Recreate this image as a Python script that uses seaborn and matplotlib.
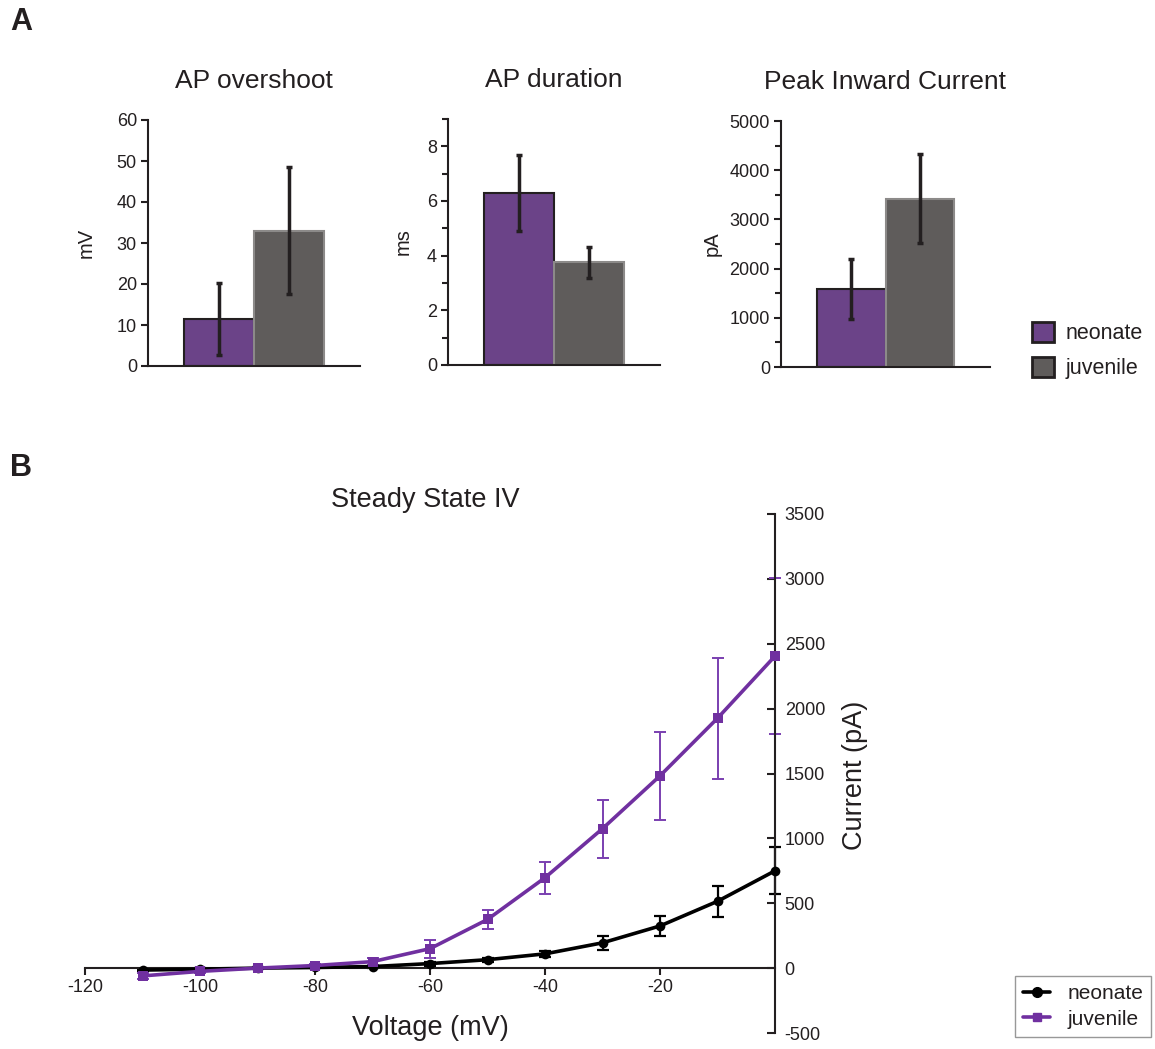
import numpy as np
import pandas as pd
import matplotlib
matplotlib.use("Agg")
import matplotlib.pyplot as plt
from matplotlib.ticker import MultipleLocator
from matplotlib.patches import Patch
from matplotlib.lines import Line2D
import seaborn as sns

sns.set_style("white")
plt.rcParams['font.family'] = ['Liberation Sans', 'DejaVu Sans']
plt.rcParams['axes.unicode_minus'] = False

# ---------------- data ----------------
groups = ["neonate", "juvenile"]

overshoot_mean = [11.5, 33.0]
overshoot_err = [8.8, 15.5]

duration_mean = [6.3, 3.75]
duration_err = [1.4, 0.58]

peak_mean = [1580, 3420]
peak_err = [610, 900]

voltage = [-110, -100, -90, -80, -70, -60, -50, -40, -30, -20, -10, 0]
neonate_I = [-15, -8, 0, 5, 12, 35, 65, 110, 195, 325, 515, 750]
neonate_err = [8, 6, 5, 5, 8, 15, 15, 25, 55, 78, 118, 180]
juvenile_I = [-60, -25, 0, 20, 50, 150, 375, 697, 1075, 1482, 1926, 2405]
juvenile_err = [25, 15, 8, 12, 25, 70, 70, 123, 223, 340, 465, 600]

# ---------------- style ----------------
W, H = 1155, 1049
C_NEO_BAR = "#6b4388"
C_JUV_BAR = "#5f5c5b"
C_PURPLE = "#7030a0"
C_DARK = "#231f20"

fig = plt.figure(figsize=(W / 100, H / 100), dpi=100)


def rect(l, t, r, b):
    return [l / W, 1 - b / H, (r - l) / W, (b - t) / H]


def bar_panel(ax, title, means, errs, ylabel, ymax, major, minor, lblx):
    df = pd.DataFrame({"cond": [""] * 2, "group": groups, "value": means})
    sns.barplot(data=df, x="cond", y="value", hue="group", hue_order=groups,
                palette=[C_NEO_BAR, C_JUV_BAR], errorbar=None, width=0.66,
                ax=ax, legend=False, saturation=1)
    edgecols = [C_DARK, "#8c8a89"]
    for p, ec, m, e in zip(ax.patches, edgecols, means, errs):
        p.set_edgecolor(ec)
        p.set_linewidth(1.5)
        cx = p.get_x() + p.get_width() / 2
        ax.errorbar(cx, m, yerr=e, fmt="none", ecolor=C_DARK, elinewidth=2.5,
                    capsize=2.5, capthick=2.5, zorder=5)
    ax.set_xlim(-0.5, 0.5)
    ax.set_ylim(0, ymax)
    ax.yaxis.set_major_locator(MultipleLocator(major))
    if minor:
        ax.yaxis.set_minor_locator(MultipleLocator(minor))
    ax.set_xticks([])
    ax.set_xlabel("")
    ax.set_ylabel(ylabel, fontsize=14.5, color=C_DARK)
    ax.yaxis.set_label_coords(lblx, 0.5)
    ax.yaxis.label.set_va("center")
    ax.set_title(title, fontsize=19, pad=23, color=C_DARK)
    for s in ["top", "right"]:
        ax.spines[s].set_visible(False)
    for s in ["left", "bottom"]:
        ax.spines[s].set_color(C_DARK)
        ax.spines[s].set_linewidth(1.5)
    ax.tick_params(axis="y", which="both", direction="out", left=True,
                   color=C_DARK, width=1.5, labelsize=13, labelcolor=C_DARK, pad=3)
    ax.tick_params(axis="y", which="major", length=5)
    ax.tick_params(axis="y", which="minor", length=4)


ax1 = fig.add_axes(rect(148, 120, 360, 366))
bar_panel(ax1, "AP overshoot", overshoot_mean, overshoot_err, "mV", 60, 10, None, -0.29)
ax2 = fig.add_axes(rect(448, 119, 660, 365))
bar_panel(ax2, "AP duration", duration_mean, duration_err, "ms", 9, 2, 1, -0.21)
ax3 = fig.add_axes(rect(781, 121, 990, 367))
bar_panel(ax3, "Peak Inward Current", peak_mean, peak_err, "pA", 5000, 1000, 500, -0.33)

legA = [Patch(facecolor=C_NEO_BAR, edgecolor=C_DARK, linewidth=2, label="neonate"),
        Patch(facecolor=C_JUV_BAR, edgecolor=C_DARK, linewidth=2, label="juvenile")]
fig.legend(handles=legA, loc="upper left", bbox_to_anchor=(1013 / W, 1 - 303 / H),
           frameon=False, fontsize=15.5, handlelength=1.0, handleheight=1.0,
           handletextpad=0.55, labelspacing=0.6, labelcolor=C_DARK)

# ---------------- panel B ----------------
axB = fig.add_axes(rect(85, 514, 775, 1033))
dfB = pd.DataFrame({
    "Voltage": voltage * 2,
    "Current": neonate_I + juvenile_I,
    "group": ["neonate"] * len(voltage) + ["juvenile"] * len(voltage),
})
sns.lineplot(data=dfB, x="Voltage", y="Current", hue="group", style="group",
             hue_order=groups, style_order=groups,
             palette={"neonate": "black", "juvenile": C_PURPLE},
             markers={"neonate": "o", "juvenile": "s"}, dashes=False,
             linewidth=2.6, markersize=7, markeredgewidth=0, errorbar=None,
             ax=axB, legend=False, clip_on=False, zorder=3)
axB.errorbar(voltage, neonate_I, yerr=neonate_err, fmt="none", ecolor="black",
             elinewidth=1.6, capsize=4, capthick=1.6, clip_on=False, zorder=2)
axB.errorbar(voltage, juvenile_I, yerr=juvenile_err, fmt="none", ecolor="#7a3fb0",
             elinewidth=1.4, capsize=4, capthick=1.4, clip_on=False, zorder=2)

axB.set_xlim(-120, 0)
axB.set_ylim(-500, 3500)
axB.set_xticks([-120, -100, -80, -60, -40, -20])
axB.set_yticks(np.arange(-500, 3501, 500))
axB.spines["top"].set_visible(False)
axB.spines["left"].set_visible(False)
axB.spines["bottom"].set_position(("data", 0))
for s in ["bottom", "right"]:
    axB.spines[s].set_color(C_DARK)
    axB.spines[s].set_linewidth(1.5)
axB.yaxis.tick_right()
axB.yaxis.set_label_position("right")
axB.tick_params(axis="x", direction="out", bottom=True, length=5, width=1.5,
                color=C_DARK, labelsize=13, labelcolor=C_DARK, pad=3)
axB.tick_params(axis="y", direction="in", right=True, left=False, length=6, width=1.5,
                color=C_DARK, labelsize=13, labelcolor=C_DARK, pad=7)

axB.set_xlabel("Voltage (mV)", fontsize=19.5, color=C_DARK)
axB.xaxis.set_label_coords(0.5, 0.01)
axB.xaxis.label.set_va("center")
axB.set_ylabel("Current (pA)", fontsize=19.5, color=C_DARK)
axB.yaxis.set_label_coords(1.116, 0.497)
axB.yaxis.label.set_va("center")
axB.set_title("Steady State IV", fontsize=19.5, pad=5, color=C_DARK, x=0.493)

legB = [Line2D([], [], color="black", marker="o", markersize=7, linewidth=2.6, label="neonate"),
        Line2D([], [], color=C_PURPLE, marker="s", markersize=6, linewidth=2.6, label="juvenile")]
fig.legend(handles=legB, loc="upper left", bbox_to_anchor=(1015 / W, 1 - 976 / H),
           frameon=True, fancybox=False, edgecolor="#7f7f7f", fontsize=15,
           handlelength=1.3, handletextpad=0.8, labelspacing=0.3, borderpad=0.4,
           borderaxespad=0, labelcolor=C_DARK)

# panel letters
fig.text(10 / W, 1 - 22 / H, "A", fontsize=22, fontweight="bold", va="center", color=C_DARK)
fig.text(10 / W, 1 - 468 / H, "B", fontsize=22, fontweight="bold", va="center", color=C_DARK)

fig.savefig("out.png", dpi=100)
